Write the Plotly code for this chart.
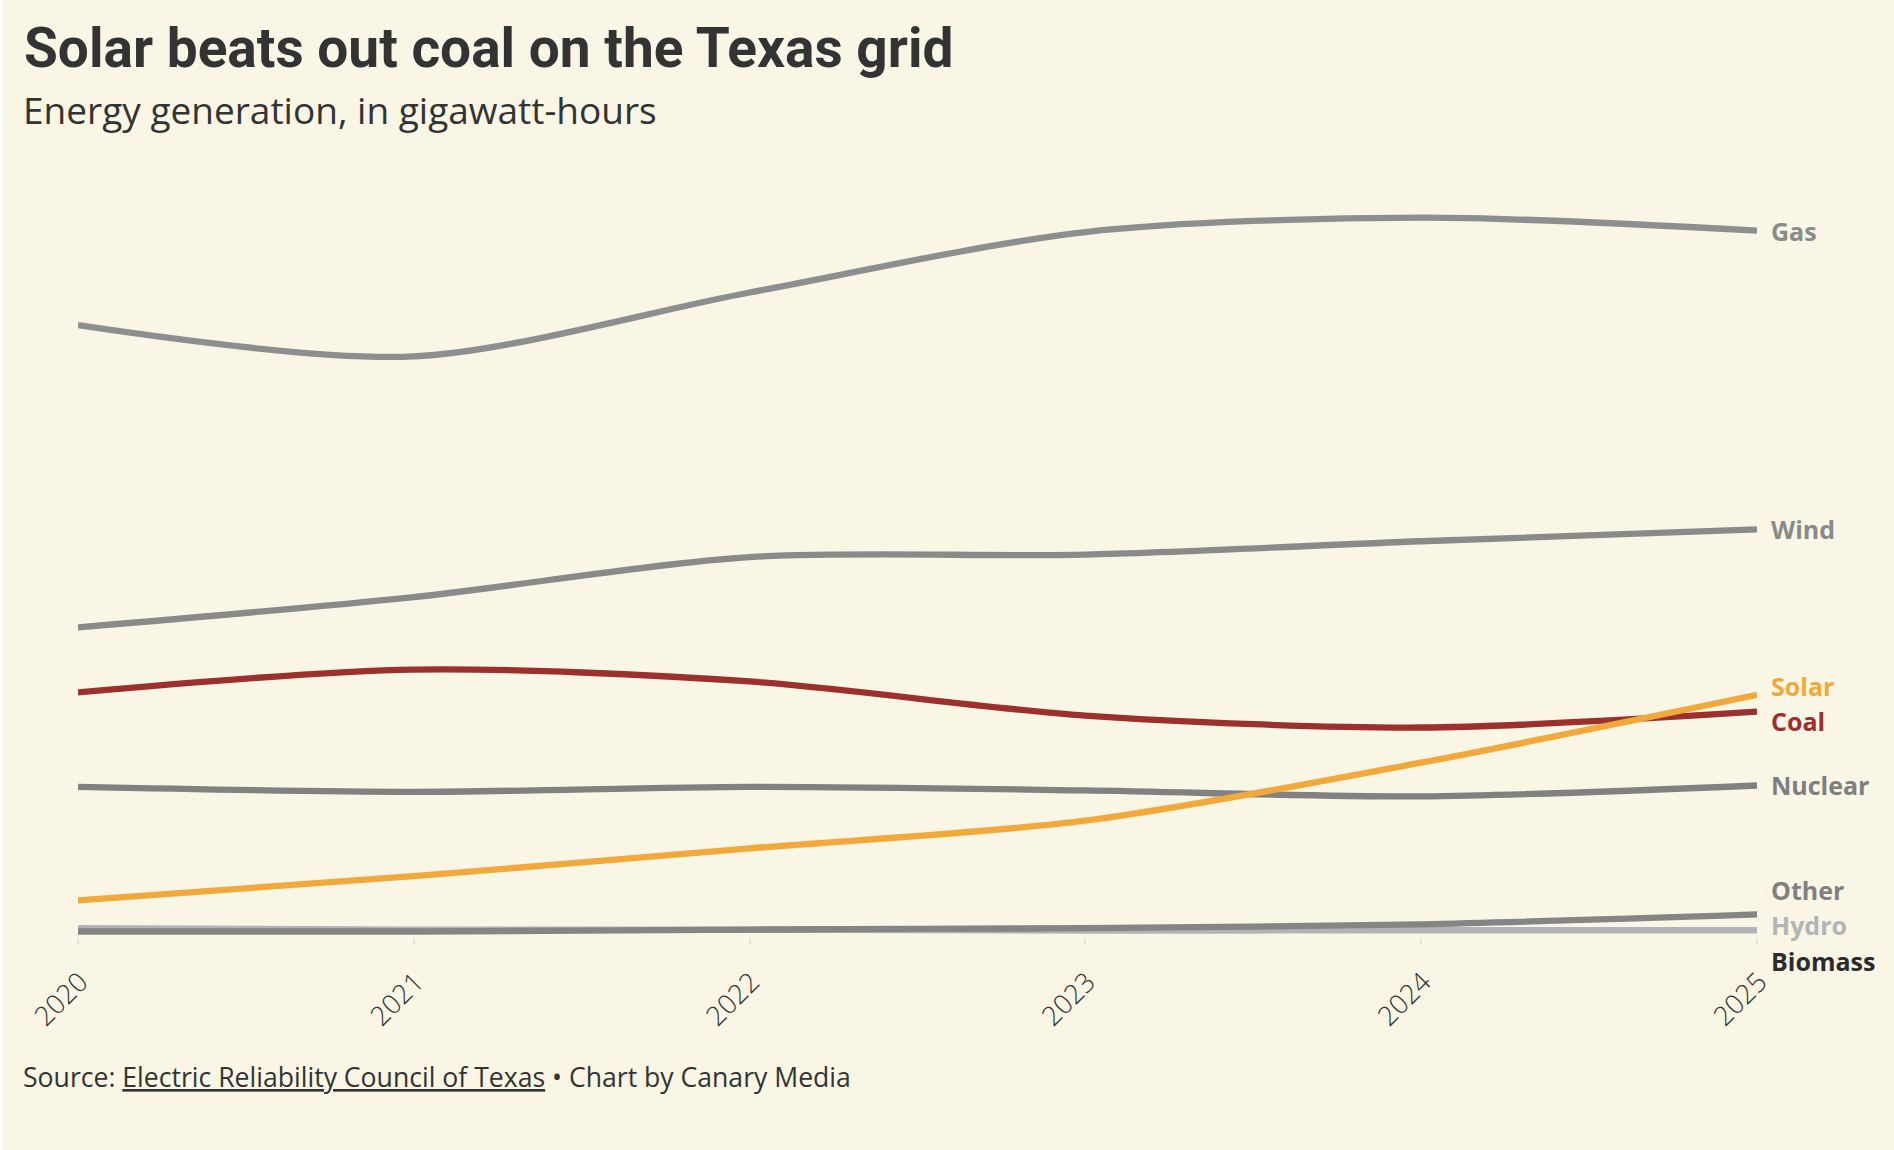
import plotly.graph_objects as go

# ---------------- data (thousands of GWh) ----------------
years = [2020, 2021, 2022, 2023, 2024, 2025]
gas = [173.0, 164.1, 182.3, 199.5, 203.6, 199.9]
wind = [87.0, 95.6, 107.0, 107.7, 111.5, 114.9]
coal = [68.5, 75.0, 71.6, 61.9, 58.5, 63.0]
nuclear = [41.6, 40.2, 41.6, 40.6, 38.9, 42.0]
solar = [9.3, 16.2, 24.1, 32.0, 48.5, 67.8]
other = [0.45, 0.45, 1.0, 1.4, 2.5, 5.3]
hydro = [1.4, 1.0, 1.0, 0.7, 0.8, 0.8]
biomass = [0.5, 0.5, 0.5, 0.5, 0.5, 0.5]

# values in gigawatt-hours
scale = 1000.0
series_names = ["Biomass", "Hydro", "Other", "Nuclear", "Coal", "Wind", "Gas", "Solar"]
series_values = {
    "Gas": gas, "Wind": wind, "Coal": coal, "Nuclear": nuclear,
    "Solar": solar, "Other": other, "Hydro": hydro, "Biomass": biomass,
}
line_colors = {
    "Gas": "#8d8e90", "Wind": "#8a8a8a", "Coal": "#9b302d", "Nuclear": "#818181",
    "Solar": "#f2a93b", "Other": "#858585", "Hydro": "#b3b3b7", "Biomass": "#333333",
}
label_colors = {
    "Gas": "#8a8b8d", "Wind": "#8a8a8a", "Coal": "#9b302d", "Nuclear": "#7f7f7f",
    "Solar": "#f2a93b", "Other": "#808080", "Hydro": "#b3b3b8", "Biomass": "#2b2b2b",
}
x_ticks = [2020, 2021, 2022, 2023, 2024, 2025]
x_ticklabels = ["2020", "2021", "2022", "2023", "2024", "2025"]

title = "Solar beats out coal on the Texas grid"
subtitle = "Energy generation, in gigawatt-hours"
source = ("Source: <u>Electric Reliability Council of Texas</u> \u2022 Chart by Canary Media")

BG = "#f9f6e6"
TXT = "#333333"
W, H = 1894, 1150
ML, MR, MT = 78, 137, 160
PX_PER_UNIT = 3.512 / scale
Y_MIN, Y_MAX = -12.5 * scale, 220 * scale
plot_h = (Y_MAX - Y_MIN) * PX_PER_UNIT
MB = H - MT - plot_h
AXIS_PX = 937

fig = go.Figure()
for name in series_names:
    vals = [v * scale for v in series_values[name]]
    fig.add_trace(go.Scatter(
        x=years, y=vals, mode="lines", name=name,
        line=dict(color=line_colors[name], width=3 if name == "Biomass" else 6.3,
                  shape="spline", smoothing=0.85),
        hoverinfo="x+y+name", showlegend=False,
    ))

# ---------------- end labels with simple dodging ----------------
min_gap = 35.5 / PX_PER_UNIT
ends = sorted([(series_values[n][-1] * scale, n) for n in series_values], key=lambda t: t[0])


def spread(cl):
    m = sum(v for v, _ in cl) / len(cl)
    return [m + (i - (len(cl) - 1) / 2) * min_gap for i in range(len(cl))]


clusters = [[e] for e in ends]
changed = True
while changed:
    changed = False
    new = [clusters[0]]
    for c in clusters[1:]:
        prev = new[-1]
        if spread(c)[0] - spread(prev)[-1] < min_gap - 1e-9:
            new[-1] = prev + c
            changed = True
        else:
            new.append(c)
    clusters = new
label_y = {}
for cl in clusters:
    for (v, n), p in zip(cl, spread(cl)):
        label_y[n] = p

shapes = []
for n, ly in label_y.items():
    ey = series_values[n][-1] * scale
    if abs(ly - ey) * PX_PER_UNIT < 2:
        path = f"M 2,{ey} L 9,{ey}"
    else:
        path = f"M 2,{ey} L 6,{ey} L 6,{ly} L 9,{ly}"
    shapes.append(dict(type="path", xref="x", yref="y", xsizemode="pixel",
                       xanchor=years[-1], path=path,
                       line=dict(color="#a6a6a6", width=1.5)))
    fig.add_annotation(x=years[-1], y=ly, xref="x", yref="y", text=f"<b>{n}</b>",
                       showarrow=False, xanchor="left", yanchor="middle", xshift=12,
                       font=dict(family="Open Sans", size=25, color=label_colors[n]))


def ppx(p):
    return (p - ML) / (W - ML - MR)


def ppy(p):
    return (H - MB - p) / plot_h


# faint lighter strip along the left edge
shapes.append(dict(type="rect", xref="paper", yref="paper", x0=ppx(0), x1=ppx(3),
                   y0=ppy(H), y1=ppy(0), line=dict(width=0), fillcolor="#fcfbf5",
                   layer="below"))

fig.add_annotation(x=ppx(22), y=ppy(48), xref="paper", yref="paper", text=f"<b>{title}</b>",
                   showarrow=False, xanchor="left", yanchor="middle",
                   font=dict(family="Roboto", size=55, color=TXT))
fig.add_annotation(x=ppx(21), y=ppy(110), xref="paper", yref="paper", text=subtitle,
                   showarrow=False, xanchor="left", yanchor="middle",
                   font=dict(family="Open Sans", size=37, color=TXT, weight=400))
fig.add_annotation(x=ppx(21), y=ppy(1076), xref="paper", yref="paper", text=source,
                   showarrow=False, xanchor="left", yanchor="middle",
                   font=dict(family="Open Sans", size=26.6, color=TXT, weight=400))

fig.update_layout(
    width=W, height=H, paper_bgcolor=BG, plot_bgcolor=BG,
    margin=dict(l=ML, r=MR, t=MT, b=MB, pad=0),
    shapes=shapes,
    xaxis=dict(range=[years[0], years[-1]], tickvals=x_ticks, ticktext=x_ticklabels,
               anchor="free", position=ppy(AXIS_PX),
               tickangle=-45, ticks="outside", ticklen=6, tickwidth=1.5,
               tickcolor="#e2e2e2", showgrid=False, zeroline=False, showline=False,
               ticklabelstandoff=11, ticklabelshift=2,
               tickfont=dict(family="Open Sans", size=27, color=TXT, weight=300)),
    yaxis=dict(range=[Y_MIN, Y_MAX], visible=False, showgrid=False, zeroline=False),
)
fig.write_html("out.html", config={"displayModeBar": False},
               post_script="document.body.style.margin='0';")
